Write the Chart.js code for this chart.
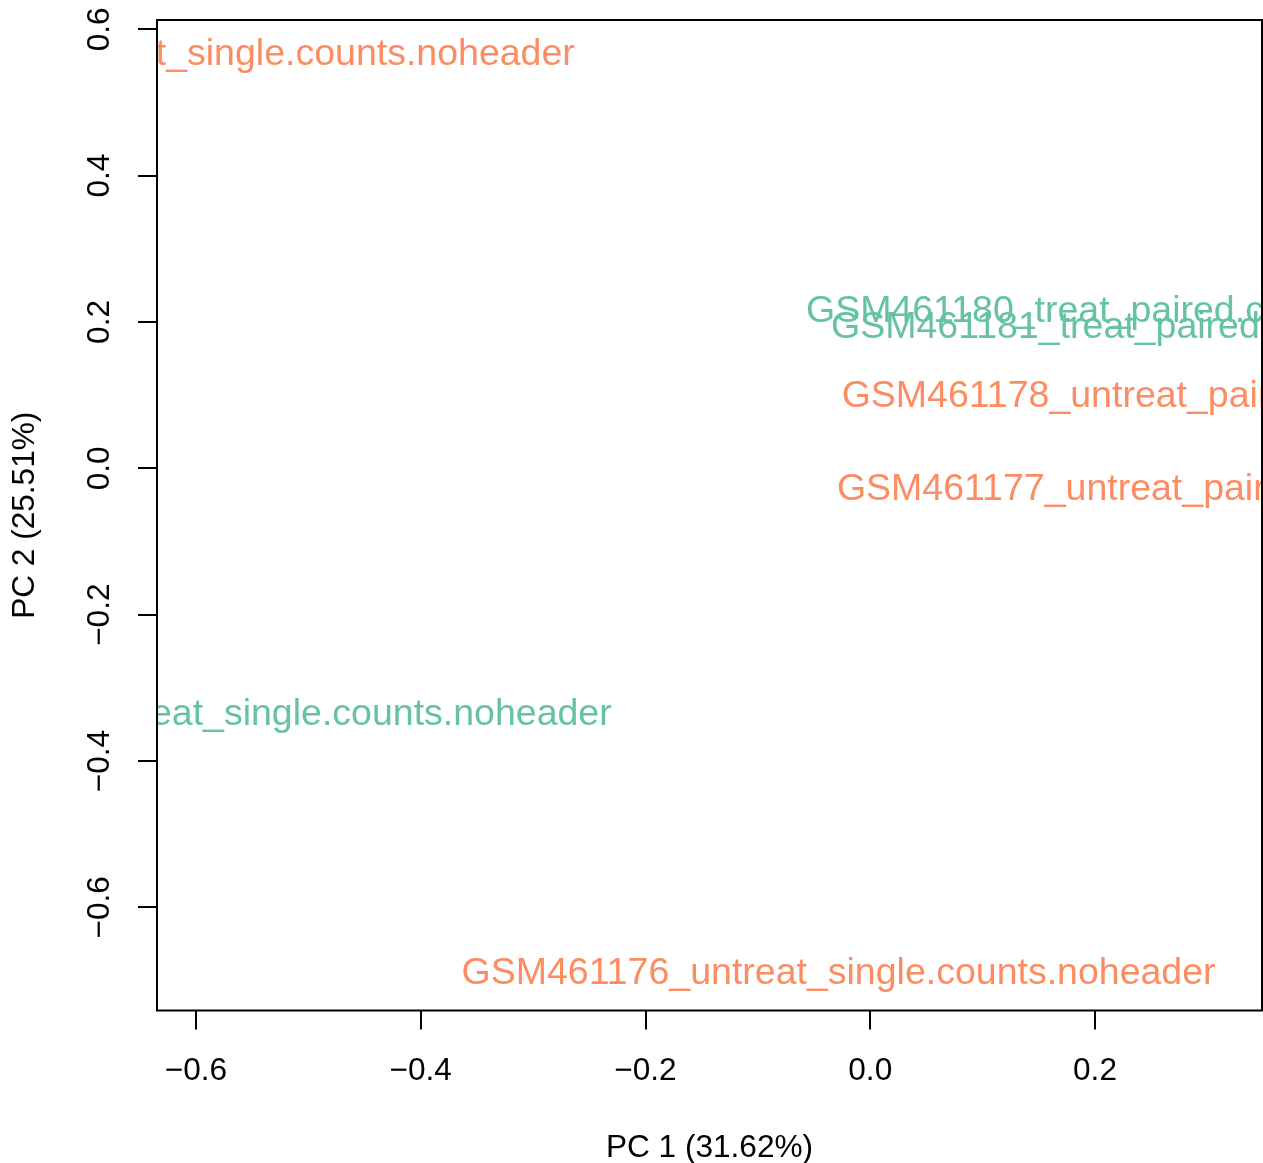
<!DOCTYPE html>
<html lang="en">
<head>
  <meta charset="UTF-8" />
  <title>PCA of samples</title>
  <script src="https://cdn.jsdelivr.net/npm/chart.js"></script>
  <style>
    body {
      margin: 0;
      background: #fff;
    }
    #pca {
      display: block;
    }
  </style>
</head>
<body>
  <canvas id="pca" width="1263" height="1163"></canvas>

  <script>
    // sample labels and their PCA coordinates
    const sampleNames = [
      "GSM461176_untreat_single.counts.noheader",
      "GSM461177_untreat_paired.counts.noheader",
      "GSM461178_untreat_paired.counts.noheader",
      "GSM461179_treat_single.counts.noheader",
      "GSM461180_treat_paired.counts.noheader",
      "GSM461181_treat_paired.counts.noheader",
      "GSM461182_untreat_single.counts.noheader"
    ];
    const condition = ["untreat", "untreat", "untreat", "treat", "treat", "treat", "untreat"];
    const pc1 = [-0.0282, 0.3086, 0.3128, -0.5470, 0.2625, 0.2848, -0.5984];
    const pc2 = [-0.6868, -0.0251, 0.1025, -0.3325, 0.2177, 0.1958, 0.5695];

    const xTicks = [-0.6, -0.4, -0.2, 0.0, 0.2];
    const yTicks = [-0.6, -0.4, -0.2, 0.0, 0.2, 0.4, 0.6];
    const xTitle = "PC 1 (31.62%)";
    const yTitle = "PC 2 (25.51%)";

    const colours = { untreat: "#FC8D62", treat: "#66C2A5" };
    const FONT = '"Liberation Sans", Arial, Helvetica, sans-serif';

    const fmt = v => v.toFixed(1).replace("-", "\u2212");

    const points = sampleNames.map((name, i) => ({ x: pc1[i], y: pc2[i], name, cond: condition[i] }));

    // R-style base graphics: box, tick labels, titles, text labels clipped to plot region
    const rStyle = {
      id: "rStyle",
      afterDatasetsDraw(chart) {
        const { ctx, chartArea: a, scales: { x, y } } = chart;

        // sample labels
        const meta = chart.getDatasetMeta(0);
        ctx.save();
        ctx.beginPath();
        ctx.rect(a.left, a.top, a.right - a.left, a.bottom - a.top);
        ctx.clip();
        ctx.font = `37.5px ${FONT}`;
        ctx.textAlign = "center";
        ctx.textBaseline = "alphabetic";
        meta.data.forEach((el, i) => {
          const p = points[i];
          ctx.fillStyle = colours[p.cond];
          ctx.fillText(p.name, el.x, el.y + 13.4);
        });
        ctx.restore();

        // frame
        ctx.save();
        ctx.strokeStyle = "#000";
        ctx.lineWidth = 2;
        ctx.strokeRect(a.left, a.top, a.right - a.left, a.bottom - a.top);

        // tick labels
        ctx.fillStyle = "#000";
        ctx.font = `31.6px ${FONT}`;
        ctx.textAlign = "center";
        ctx.textBaseline = "alphabetic";
        x.ticks.forEach(t => {
          ctx.fillText(fmt(t.value), x.getPixelForValue(t.value), 1080);
        });
        y.ticks.forEach(t => {
          ctx.save();
          ctx.translate(109, y.getPixelForValue(t.value));
          ctx.rotate(-Math.PI / 2);
          ctx.fillText(fmt(t.value), 0, 0);
          ctx.restore();
        });

        // axis titles
        ctx.fillText(xTitle, (a.left + a.right) / 2, 1156.7);
        ctx.save();
        ctx.translate(33.5, (a.top + a.bottom) / 2);
        ctx.rotate(-Math.PI / 2);
        ctx.fillText(yTitle, 0, 0);
        ctx.restore();
        ctx.restore();
      }
    };

    new Chart(document.getElementById("pca"), {
      type: "scatter",
      data: {
        datasets: [{
          label: "samples",
          data: points,
          pointRadius: 0,
          pointHoverRadius: 0,
          backgroundColor: points.map(p => colours[p.cond])
        }]
      },
      options: {
        responsive: false,
        animation: false,
        events: [],
        layout: { padding: { top: 20, right: 1, left: 0, bottom: 0 } },
        plugins: {
          legend: { display: false },
          tooltip: { enabled: false }
        },
        scales: {
          x: {
            type: "linear",
            min: -0.6347,
            max: 0.3486,
            afterBuildTicks: s => { s.ticks = xTicks.map(v => ({ value: v })); },
            afterFit: s => { s.height = 152.5; },
            ticks: { display: false },
            border: { display: false },
            grid: {
              drawOnChartArea: false,
              drawTicks: true,
              tickLength: 19,
              color: "#000",
              lineWidth: 2
            }
          },
          y: {
            type: "linear",
            min: -0.7410,
            max: 0.6127,
            afterBuildTicks: s => { s.ticks = yTicks.map(v => ({ value: v })); },
            afterFit: s => { s.width = 157; },
            ticks: { display: false },
            border: { display: false },
            grid: {
              drawOnChartArea: false,
              drawTicks: true,
              tickLength: 19,
              color: "#000",
              lineWidth: 2
            }
          }
        }
      },
      plugins: [rStyle]
    });
  </script>
</body>
</html>
